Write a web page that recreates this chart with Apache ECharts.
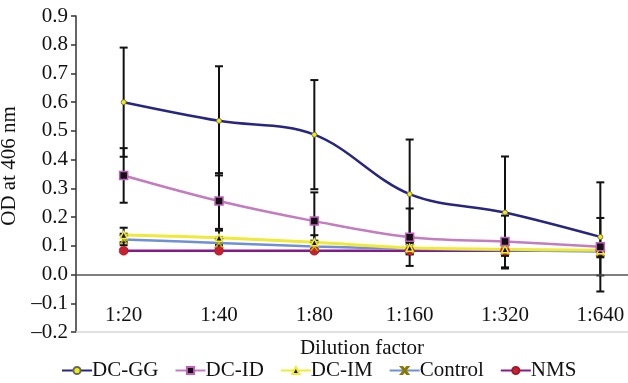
<!DOCTYPE html>
<html>
<head>
<meta charset="utf-8">
<script src="https://cdn.jsdelivr.net/npm/echarts@6/dist/echarts.min.js"></script>
<style>
html,body{margin:0;padding:0;background:#fff;}
#main{width:628px;height:383px;}
</style>
</head>
<body>
<div id="main"></div>
<script>
// dilution categories
var dilutions = ['1:20', '1:40', '1:80', '1:160', '1:320', '1:640'];

// OD means
var dcGG    = [0.600, 0.535, 0.487, 0.280, 0.216, 0.131];
var dcID    = [0.345, 0.256, 0.186, 0.130, 0.115, 0.097];
var dcIM    = [0.138, 0.128, 0.112, 0.093, 0.088, 0.085];
var control = [0.122, 0.110, 0.098, 0.090, 0.085, 0.080];
var nms     = [0.083, 0.083, 0.083, 0.083, 0.083, 0.083];

// error bar half lengths
var errGG    = [0.190, 0.190, 0.190, 0.190, 0.195, 0.190];
var errID    = [0.095, 0.097, 0.100, 0.100, 0.090, 0.100];
var errIM    = [0.025, 0.025, 0.025, 0.020, 0.020, 0.020];
var errCtrl  = [0.020, 0.020, 0.020, 0.020, 0.020, 0.020];
var errNMS   = [0.005, 0.005, 0.005, 0.005, 0.005, 0.005];

var font = 'Liberation Serif';

var chart = echarts.init(document.getElementById('main'));

// build error bar data [x, low, high]
var errData = [];
function pushErr(vals, errs) {
	for (var i = 0; i < vals.length; i++) {
		errData.push([i, vals[i] - errs[i], vals[i] + errs[i]]);
	}
}
pushErr(dcGG, errGG);
pushErr(dcID, errID);
pushErr(dcIM, errIM);
pushErr(control, errCtrl);
pushErr(nms, errNMS);

function lineSeries(name, data, color, width, symbol, size, fill, border, bw) {
	return {
		name: name,
		type: 'line',
		data: data,
		smooth: 0.35,
		z: 3,
		symbol: symbol,
		symbolSize: size,
		showSymbol: true,
		lineStyle: {color: color, width: width},
		itemStyle: {color: fill, borderColor: border, borderWidth: bw},
		emphasis: {disabled: true}
	};
}

var crossPath = 'path://M0,0 L2,0 L5,3 L8,0 L10,0 L6,4 L10,8 L8,8 L5,5 L2,8 L0,8 L4,4 Z';

var option = {
	animation: false,
	backgroundColor: '#fff',
	grid: {left: 76, right: -20, top: 16, bottom: 51, outerBoundsMode: 'none', containLabel: false},
	legend: {
		data: ['DC-GG', 'DC-ID', 'DC-IM', 'Control', 'NMS'],
		left: 56,
		top: 355,
		itemWidth: 30,
		itemHeight: 9,
		itemGap: 16,
		textStyle: {fontFamily: font, fontSize: 21, color: '#111', padding: [0, 0, 0, -5]}
	},
	xAxis: {
		type: 'category',
		data: dilutions,
		boundaryGap: true,
		name: 'Dilution factor',
		nameLocation: 'middle',
		nameGap: 1,
		nameTextStyle: {fontFamily: font, fontSize: 21, color: '#111'},
		axisLine: {onZero: false, lineStyle: {color: '#d8d8d8', width: 1.5}},
		axisTick: {show: false},
		axisLabel: {inside: true, margin: 6, fontFamily: font, fontSize: 21, color: '#111'},
		splitLine: {show: false}
	},
	yAxis: {
		type: 'value',
		min: -0.2,
		max: 0.9,
		interval: 0.1,
		name: 'OD at 406 nm',
		nameLocation: 'middle',
		nameGap: 51,
		nameTextStyle: {fontFamily: font, fontSize: 21, color: '#111', padding: [0, 0, 0, 16]},
		axisLine: {show: true, lineStyle: {color: '#333', width: 1.5}},
		axisTick: {show: true, length: 5, lineStyle: {color: '#333', width: 1.5}},
		axisLabel: {
			margin: 8, fontFamily: font, fontSize: 21, color: '#111',
			formatter: function (v) {
				var s = Math.abs(v).toFixed(1);
				return v < -0.001 ? '\u2013' + s : s;
			}
		},
		splitLine: {show: false}
	},
	series: [
		{
			name: 'err',
			type: 'custom',
			z: 2,
			silent: true,
			data: errData,
			renderItem: function (params, api) {
				var x = api.value(0);
				var lo = api.coord([x, api.value(1)]);
				var hi = api.coord([x, api.value(2)]);
				var cap = 4;
				var st = {stroke: '#111', lineWidth: 2};
				return {
					type: 'group',
					children: [
						{type: 'line', shape: {x1: hi[0], y1: hi[1], x2: lo[0], y2: lo[1]}, style: st},
						{type: 'line', shape: {x1: hi[0] - cap, y1: hi[1], x2: hi[0] + cap, y2: hi[1]}, style: st},
						{type: 'line', shape: {x1: lo[0] - cap, y1: lo[1], x2: lo[0] + cap, y2: lo[1]}, style: st}
					]
				};
			},
			markLine: {
				silent: true,
				symbol: 'none',
				label: {show: false},
				lineStyle: {color: '#555', width: 1.5, type: 'solid'},
				data: [{yAxis: 0}]
			}
		},
		lineSeries('NMS', nms, '#861a8c', 2.5, 'circle', 9, '#c8202e', '#a01828', 0.5),
		lineSeries('Control', control, '#6e90d8', 2.5, crossPath, 9, '#d8c400', '#8a7a00', 0.5),
		lineSeries('DC-IM', dcIM, '#f0ea34', 3, 'triangle', 7, '#111', '#f0ea34', 1.5),
		lineSeries('DC-ID', dcID, '#c47cc0', 2.5, 'rect', 8, '#111', '#c060b8', 1.5),
		lineSeries('DC-GG', dcGG, '#262682', 2.5, 'circle', 5, '#f4ee00', '#666', 0.8)
	]
};

chart.setOption(option);
</script>
</body>
</html>
